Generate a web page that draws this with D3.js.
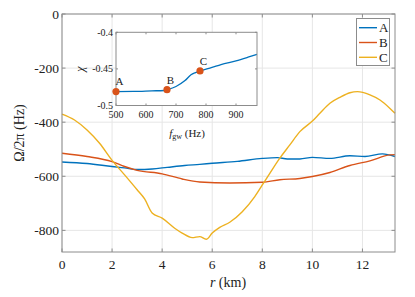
<!DOCTYPE html>
<html>
<head>
<meta charset="utf-8">
<script src="https://cdn.jsdelivr.net/npm/d3@7"></script>
<style>
  body { margin: 0; background: #fff; }
  text { font-family: "Liberation Serif", "DejaVu Serif", serif; fill: #222; }
</style>
</head>
<body>
<div id="chart"></div>
<script>
// main panel: Omega/2pi vs r
var rA = [0, 1, 2, 2.5, 3, 3.6, 4.2, 4.9, 5.5, 6, 7, 8, 8.6, 9, 9.5, 10, 10.7, 11.5, 12.1, 12.8, 13.3];
var omegaA = [-547, -553, -564, -569, -575, -573, -567, -560, -556, -552, -545, -534, -531, -536, -536, -530, -534, -524, -527, -517, -527];
var rB = [0, 1, 2, 2.5, 3, 4, 4.8, 5.5, 6.7, 8, 8.7, 9.5, 10, 10.7, 11.5, 12.3, 13.1, 13.3];
var omegaB = [-515, -527, -546, -564, -578, -591, -610, -621, -625, -622, -613, -608, -601, -586, -560, -543, -521, -520];
var rC = [0, 0.5, 1, 1.5, 2, 2.5, 3, 3.3, 3.6, 4, 4.5, 4.8, 5.2, 5.5, 5.76, 6, 6.3, 6.7, 7.2, 7.7, 8, 8.3, 8.7, 9.1, 9.5, 10, 10.3, 10.7, 11.1, 11.5, 11.8, 12.3, 12.7, 13.1, 13.3];
var omegaC = [-370, -392, -429, -478, -541, -595, -650, -684, -736, -755, -792, -810, -827, -823, -833, -810, -789, -770, -731, -675, -632, -589, -533, -484, -435, -396, -367, -330, -308, -291, -287, -299, -318, -349, -367];
var seriesNames = ["A", "B", "C"];
var colors = ["#0072BD", "#D95319", "#EDB120"];
var xTicks = [0, 2, 4, 6, 8, 10, 12];
var yTicks = [-800, -600, -400, -200, 0];

// inset: chi vs f_gw
var fgw = [500, 560, 620, 660, 670, 700, 730, 750, 765, 780, 820, 850, 900, 940, 970];
var chi = [-0.481, -0.4808, -0.480, -0.4795, -0.4784, -0.474, -0.466, -0.458, -0.455, -0.4528, -0.448, -0.444, -0.439, -0.434, -0.430];
var markF = [500, 670, 780];
var markChi = [-0.481, -0.4784, -0.4528];
var insetXTicks = [500, 600, 700, 800, 900];
var insetYTicks = [-0.5, -0.45, -0.4];

var width = 415, height = 297;
var mLeft = 62, mRight = 395, mTop = 14, mBottom = 252;
var axisColor = "#8c8c8c";

var svg = d3.select("#chart").append("svg")
  .attr("width", width)
  .attr("height", height);

var x = d3.scaleLinear().domain([0, 13.3]).range([mLeft, mRight]);
var y = d3.scaleLinear().domain([-880, 0]).range([mBottom, mTop]);

// grid
svg.append("g").selectAll("line").data(xTicks).enter().append("line")
  .attr("x1", d => x(d)).attr("x2", d => x(d))
  .attr("y1", mTop).attr("y2", mBottom)
  .attr("stroke", "#e6e6e6").attr("stroke-width", 1);
svg.append("g").selectAll("line").data(yTicks).enter().append("line")
  .attr("y1", d => y(d)).attr("y2", d => y(d))
  .attr("x1", mLeft).attr("x2", mRight)
  .attr("stroke", "#e6e6e6").attr("stroke-width", 1);

// curves
var line = d3.line()
  .x(d => x(d[0]))
  .y(d => y(d[1]))
  .curve(d3.curveMonotoneX);

var series = [
  d3.zip(rA, omegaA),
  d3.zip(rB, omegaB),
  d3.zip(rC, omegaC)
];
series.forEach(function (s, i) {
  svg.append("path")
    .datum(s)
    .attr("d", line)
    .attr("fill", "none")
    .attr("stroke", colors[i])
    .attr("stroke-width", 1.4);
});

// box, ticks and tick labels
function drawAxes(g, xs, ys, xt, yt, tick, fs, xfmt, yfmt, bottomLabelOffset) {
  var x0 = xs.range()[0], x1 = xs.range()[1];
  var y0 = ys.range()[1], y1 = ys.range()[0];
  g.append("rect")
    .attr("x", x0).attr("y", y0)
    .attr("width", x1 - x0).attr("height", y1 - y0)
    .attr("fill", "none").attr("stroke", axisColor).attr("stroke-width", 1);
  g.append("g").selectAll("path").data(xt).enter().append("path")
    .attr("d", d => "M" + xs(d) + "," + y1 + "v" + (-tick) + "M" + xs(d) + "," + y0 + "v" + tick)
    .attr("stroke", axisColor);
  g.append("g").selectAll("path").data(yt).enter().append("path")
    .attr("d", d => "M" + x0 + "," + ys(d) + "h" + tick + "M" + x1 + "," + ys(d) + "h" + (-tick))
    .attr("stroke", axisColor);
  g.append("g").selectAll("text").data(xt).enter().append("text")
    .attr("x", d => xs(d)).attr("y", y1 + bottomLabelOffset)
    .attr("text-anchor", "middle").attr("font-size", fs)
    .text(xfmt);
  g.append("g").selectAll("text").data(yt).enter().append("text")
    .attr("x", x0 - 3).attr("y", d => ys(d))
    .attr("dy", "0.35em")
    .attr("text-anchor", "end").attr("font-size", fs)
    .text(yfmt);
}

drawAxes(svg, x, y, xTicks, yTicks, 3.5, 13.5, d => d, d => d, 17);

// axis labels
var xl = svg.append("text")
  .attr("x", 228).attr("y", 287)
  .attr("text-anchor", "middle").attr("font-size", 14);
xl.append("tspan").attr("font-style", "italic").text("r");
xl.append("tspan").text(" (km)");

svg.append("text")
  .attr("transform", "translate(24,133) rotate(-90)")
  .attr("text-anchor", "middle").attr("font-size", 14)
  .text("Ω/2π (Hz)");

// legend
var lg = svg.append("g");
lg.append("rect")
  .attr("x", 356.5).attr("y", 18.5)
  .attr("width", 33).attr("height", 47)
  .attr("fill", "#fff").attr("stroke", axisColor);
seriesNames.forEach(function (n, i) {
  var ly = 27.7 + i * 14.8;
  lg.append("line")
    .attr("x1", 359).attr("x2", 377).attr("y1", ly).attr("y2", ly)
    .attr("stroke", colors[i]).attr("stroke-width", 1.4);
  lg.append("text")
    .attr("x", 379).attr("y", ly).attr("dy", "0.35em")
    .attr("font-size", 13).text(n);
});

// inset
var ix = d3.scaleLinear().domain([500, 970]).range([116, 257]);
var iy = d3.scaleLinear().domain([-0.5, -0.4]).range([105.5, 32.3]);
var inset = svg.append("g");
inset.append("rect")
  .attr("x", 116).attr("y", 32.3).attr("width", 141).attr("height", 73.2)
  .attr("fill", "#fff");
inset.append("path")
  .datum(d3.zip(fgw, chi))
  .attr("d", d3.line().x(d => ix(d[0])).y(d => iy(d[1])).curve(d3.curveMonotoneX))
  .attr("fill", "none")
  .attr("stroke", colors[0])
  .attr("stroke-width", 1.3);
drawAxes(inset, ix, iy, insetXTicks, insetYTicks, 2, 10, d => d, d => d, 12);

inset.selectAll("circle").data(d3.range(markF.length)).enter().append("circle")
  .attr("cx", i => ix(markF[i])).attr("cy", i => iy(markChi[i]))
  .attr("r", 3.6)
  .attr("fill", colors[1]);
inset.append("g").selectAll("text").data(d3.range(markF.length)).enter().append("text")
  .attr("x", i => ix(markF[i]) + 3.5).attr("y", i => iy(markChi[i]) - 10)
  .attr("dy", "0.35em")
  .attr("text-anchor", "middle").attr("font-size", 11)
  .text(i => seriesNames[i]);

svg.append("text")
  .attr("transform", "translate(84,69) rotate(-90)")
  .attr("text-anchor", "middle").attr("font-size", 12)
  .attr("font-style", "italic")
  .text("χ");

var fl = svg.append("text")
  .attr("x", 187).attr("y", 137)
  .attr("text-anchor", "middle").attr("font-size", 11);
fl.append("tspan").attr("font-style", "italic").text("f");
fl.append("tspan").attr("font-size", 8).attr("dy", 2).text("gw");
fl.append("tspan").attr("dy", -2).text(" (Hz)");
</script>
</body>
</html>
